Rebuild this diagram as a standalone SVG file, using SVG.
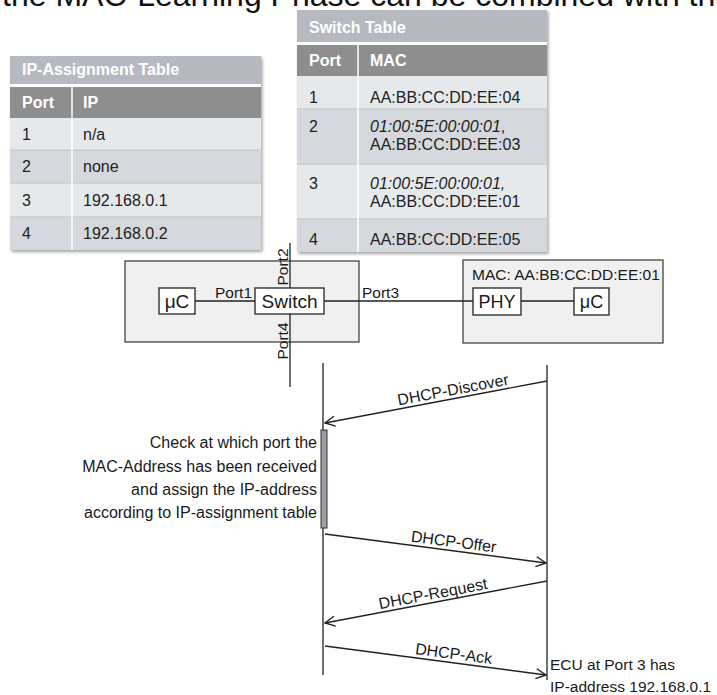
<svg xmlns="http://www.w3.org/2000/svg" width="717" height="695" viewBox="0 0 717 695">
<style>
text{font-family:"Liberation Sans",Arial,sans-serif;fill:#1a1a1a}
.ttl{font-size:16px;font-weight:bold;fill:#fff}
.hdr{font-size:16px;font-weight:bold;fill:#fff}
.cell{font-size:16px;fill:#222}
.it{font-style:italic}
.lbl{font-size:16px}
.note{font-size:16px;text-anchor:end}
.box{fill:#f0f0f0;stroke:#444;stroke-width:1.3}
.wbox{fill:#fff;stroke:#222;stroke-width:1.3}
.ln{stroke:#222;stroke-width:1.3;fill:none}
.msg{stroke:#222;stroke-width:1.3;fill:none;marker-end:url(#arr)}
.sep{stroke:#fff;stroke-width:2}
</style>
<defs>
<marker id="arr" viewBox="0 0 12 12" refX="11" refY="6" markerWidth="12" markerHeight="12" markerUnits="userSpaceOnUse" orient="auto">
<path d="M1,1 L11,6 L1,11" fill="none" stroke="#222" stroke-width="1.4"/>
</marker>
<filter id="sh" x="-5%" y="-5%" width="115%" height="115%">
<feDropShadow dx="1.5" dy="2" stdDeviation="1.5" flood-color="#000" flood-opacity="0.35"/>
</filter>
</defs>
<rect width="717" height="695" fill="#fff"/>
<text x="2" y="6" style="font-size:32px;fill:#111">the MAC-Learning Phase can be combined with the</text>

<g id="ip-table">
<g filter="url(#sh)">
<rect x="10" y="56" width="251" height="194" fill="#e6e9ec"/>
</g>
<rect x="10" y="56" width="251" height="28" fill="#b6bac0"/>
<rect x="10" y="87" width="251" height="31" fill="#8e8e8e"/>
<rect x="10" y="118" width="251" height="32" fill="#e6e9ec"/>
<rect x="10" y="150" width="251" height="33" fill="#d5d8dc"/>
<rect x="10" y="183" width="251" height="34" fill="#e6e9ec"/>
<rect x="10" y="217" width="251" height="33" fill="#d5d8dc"/>
<line class="sep" x1="10" y1="85.5" x2="261" y2="85.5" style="stroke-width:3"/>
<line class="sep" x1="10" y1="150" x2="261" y2="150" style="stroke-width:1.5;stroke:#c9cdd1"/>
<line class="sep" x1="10" y1="183" x2="261" y2="183" style="stroke-width:1.5;stroke:#c9cdd1"/>
<line class="sep" x1="10" y1="217" x2="261" y2="217" style="stroke-width:1.5;stroke:#c9cdd1"/>
<line class="sep" x1="72" y1="87" x2="72" y2="250" style="stroke-width:1.5"/>
<text class="ttl" x="22" y="75">IP-Assignment Table</text>
<text class="hdr" x="22" y="108">Port</text>
<text class="hdr" x="83" y="108">IP</text>
<text class="cell" x="22" y="140">1</text><text class="cell" x="83" y="140">n/a</text>
<text class="cell" x="22" y="172">2</text><text class="cell" x="83" y="172">none</text>
<text class="cell" x="22" y="206">3</text><text class="cell" x="83" y="206">192.168.0.1</text>
<text class="cell" x="22" y="239">4</text><text class="cell" x="83" y="239">192.168.0.2</text>
</g>

<g id="switch-table">
<g filter="url(#sh)">
<rect x="297" y="10" width="250" height="242" fill="#e6e9ec"/>
</g>
<rect x="297" y="10" width="250" height="32" fill="#b6bac0"/>
<rect x="297" y="45" width="250" height="31" fill="#8e8e8e"/>
<rect x="297" y="76" width="250" height="33" fill="#e6e9ec"/>
<rect x="297" y="109" width="250" height="55" fill="#d5d8dc"/>
<rect x="297" y="164" width="250" height="55" fill="#e6e9ec"/>
<rect x="297" y="219" width="250" height="33" fill="#d5d8dc"/>
<line class="sep" x1="297" y1="43.5" x2="547" y2="43.5" style="stroke-width:3"/>
<line class="sep" x1="297" y1="109" x2="547" y2="109" style="stroke-width:1.5;stroke:#c9cdd1"/>
<line class="sep" x1="297" y1="164" x2="547" y2="164" style="stroke-width:1.5;stroke:#c9cdd1"/>
<line class="sep" x1="297" y1="219" x2="547" y2="219" style="stroke-width:1.5;stroke:#c9cdd1"/>
<line class="sep" x1="358" y1="45" x2="358" y2="252" style="stroke-width:1.5"/>
<text class="ttl" x="309" y="33">Switch Table</text>
<text class="hdr" x="309" y="66">Port</text>
<text class="hdr" x="370" y="66">MAC</text>
<text class="cell" x="309" y="103">1</text><text class="cell" x="370" y="103">AA:BB:CC:DD:EE:04</text>
<text class="cell" x="309" y="132">2</text><text class="cell it" x="370" y="132">01:00:5E:00:00:01<tspan style="font-style:normal">,</tspan></text>
<text class="cell" x="370" y="150">AA:BB:CC:DD:EE:03</text>
<text class="cell" x="309" y="189">3</text><text class="cell it" x="370" y="189">01:00:5E:00:00:01,</text>
<text class="cell" x="370" y="207">AA:BB:CC:DD:EE:01</text>
<text class="cell" x="309" y="245">4</text><text class="cell" x="370" y="245">AA:BB:CC:DD:EE:05</text>
</g>

<g id="ecu-left">
<rect class="box" x="125" y="261" width="234" height="81"/>
</g>
<g id="ecu-right">
<rect class="box" x="463" y="260" width="200" height="83"/>
<text class="lbl" x="472" y="280" style="font-size:15.5px">MAC: AA:BB:CC:DD:EE:01</text>
</g>

<g id="connectors">
<line class="ln" x1="195" y1="301" x2="255" y2="301"/>
<line class="ln" x1="324" y1="301" x2="473" y2="301"/>
<line class="ln" x1="521" y1="301" x2="574" y2="301"/>
<line class="ln" x1="290" y1="243" x2="290" y2="387"/>
<line class="ln" x1="323" y1="363" x2="323" y2="675"/>
<line class="ln" x1="547" y1="365" x2="547" y2="680"/>
<path class="msg" d="M547,381 L325,423"/>
<path class="msg" d="M325,534 L546,563"/>
<path class="msg" d="M547,581 L325,623"/>
<path class="msg" d="M325,646 L546,675"/>
</g>

<g id="uc-left">
<rect class="wbox" x="159" y="288" width="36" height="26"/>
<text x="177" y="308" text-anchor="middle" style="font-size:19px">μC</text>
</g>
<g id="switch">
<rect class="wbox" x="255" y="288" width="69" height="26"/>
<text x="289.5" y="308" text-anchor="middle" style="font-size:19px">Switch</text>
</g>
<g id="phy">
<rect class="wbox" x="473" y="288" width="48" height="27"/>
<text x="497" y="308" text-anchor="middle" style="font-size:18px">PHY</text>
</g>
<g id="uc-right">
<rect class="wbox" x="574" y="288" width="35" height="27"/>
<text x="591.5" y="308" text-anchor="middle" style="font-size:18px">μC</text>
</g>

<g id="port-labels">
<text class="lbl" x="215" y="298" style="font-size:15.5px">Port1</text>
<text class="lbl" x="362" y="298" style="font-size:15.5px">Port3</text>
<text class="lbl" transform="translate(288,267) rotate(-90)" text-anchor="middle" style="font-size:15.5px">Port2</text>
<text class="lbl" transform="translate(288,341) rotate(-90)" text-anchor="middle" style="font-size:15.5px">Port4</text>
</g>

<g id="activation">
<rect x="321" y="430" width="6" height="98" fill="#9a9ea3" stroke="#333" stroke-width="1"/>
</g>

<g id="note">
<text class="note" x="317" y="448">Check at which port the</text>
<text class="note" x="317" y="472">MAC-Address has been received</text>
<text class="note" x="317" y="495">and assign the IP-address</text>
<text class="note" x="317" y="518">according to IP-assignment table</text>
</g>

<g id="msg-labels">
<text class="lbl" text-anchor="middle" transform="translate(454,395) rotate(-10.7)">DHCP-Discover</text>
<text class="lbl" text-anchor="middle" transform="translate(453,547) rotate(7.4)">DHCP-Offer</text>
<text class="lbl" text-anchor="middle" transform="translate(434,599) rotate(-10.7)">DHCP-Request</text>
<text class="lbl" text-anchor="middle" transform="translate(453,659) rotate(7.4)">DHCP-Ack</text>
</g>

<g id="result">
<text class="lbl" x="550" y="670" style="font-size:15.5px">ECU at Port 3 has</text>
<text class="lbl" x="550" y="692" style="font-size:15.5px">IP-address 192.168.0.1</text>
</g>
</svg>
